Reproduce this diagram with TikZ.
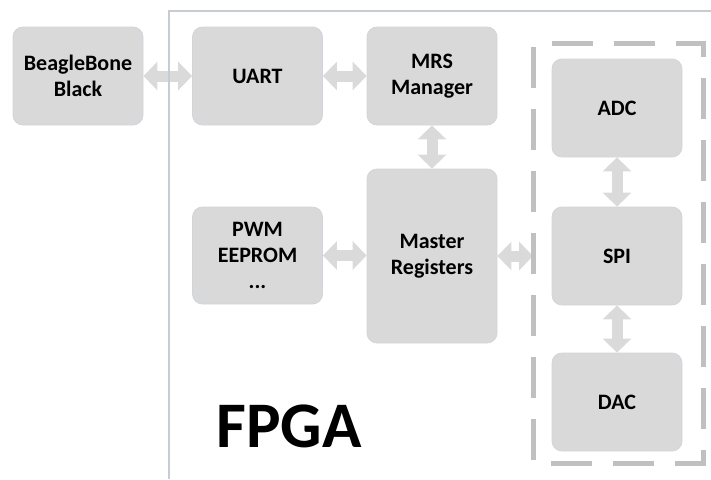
\documentclass[tikz,border=0pt]{standalone}
\usepackage{fontspec}
\setmainfont{Carlito}
\usetikzlibrary{arrows.meta}
\definecolor{boxfill}{HTML}{D9D9D9}
\definecolor{boxline}{HTML}{CFD5DC}
\definecolor{arrfill}{HTML}{DADADA}
\definecolor{dashcol}{HTML}{C0C0C0}
\definecolor{fpgaline}{HTML}{C6CCD2}
\begin{document}
\begin{tikzpicture}[x=1pt,y=-1pt,
  blk/.style={draw=boxline, line width=0.8pt, fill=boxfill, rounded corners=10pt,
    minimum width=130pt, minimum height=98pt, inner sep=0pt, align=center,
    font=\fontsize{22}{26.4}\selectfont\bfseries},
  link/.style={draw=arrfill, line width=11pt,
    {Triangle[length=14pt,width=28pt]}-{Triangle[length=14pt,width=28pt]}},
  grpline/.style={draw=dashcol, line width=5pt, dash pattern=on 41pt off 21pt, dash phase=43pt},
  fpgaborder/.style={draw=fpgaline, line width=2pt},
]
\useasboundingbox (0,0) rectangle (711,479);

% blocks
\node[blk] (bbb)  at (78,76)    {BeagleBone\\Black};
\node[blk] (uart) at (257.5,76) {UART};
\node[blk] (mrs)  at (432,76)   {MRS\\Manager};
\node[blk, minimum height=174pt] (mr) at (432,256) {Master\\Registers};
\node[blk, minimum height=97pt] (pwm) at (257.5,255.5) {PWM\\EEPROM\\...};
\node[blk] (adc) at (617,108) {ADC};
\node[blk] (spi) at (617,256) {SPI};
\node[blk] (dac) at (617,402) {DAC};

% group corners
\coordinate (grpNW) at (533,43);
\coordinate (grpNE) at (703,43);
\coordinate (grpSE) at (703,463);
\coordinate (grpSW) at (533,463);

% connectors
\draw[link] (bbb.east) -- (uart.west);
\draw[link] (uart.east) -- (mrs.west);
\draw[link] (mrs.south) -- (mr.north);
\draw[link] (pwm.east) -- (pwm.east -| mr.west);
\draw[link] (mr.east) -- (mr.east -| grpNW);
\draw[link] (adc.south) -- (spi.north);
\draw[link] (spi.south) -- (dac.north);

% FPGA border
\coordinate (fpgaTR) at (711,11);
\coordinate (fpgaTL) at (169,11);
\coordinate (fpgaBL) at (169,479);
\draw[fpgaborder] (fpgaTR) -- (fpgaTL) -- (fpgaBL);

% SPI group dashed box
\draw[grpline] (grpNW) -- (grpNE) -- (grpSE) -- (grpSW) -- cycle;

% FPGA label
\node[anchor=base, inner sep=0pt, font=\fontsize{65}{70}\selectfont\bfseries] (fpga) at (289,447) {FPGA};
\end{tikzpicture}
\end{document}
